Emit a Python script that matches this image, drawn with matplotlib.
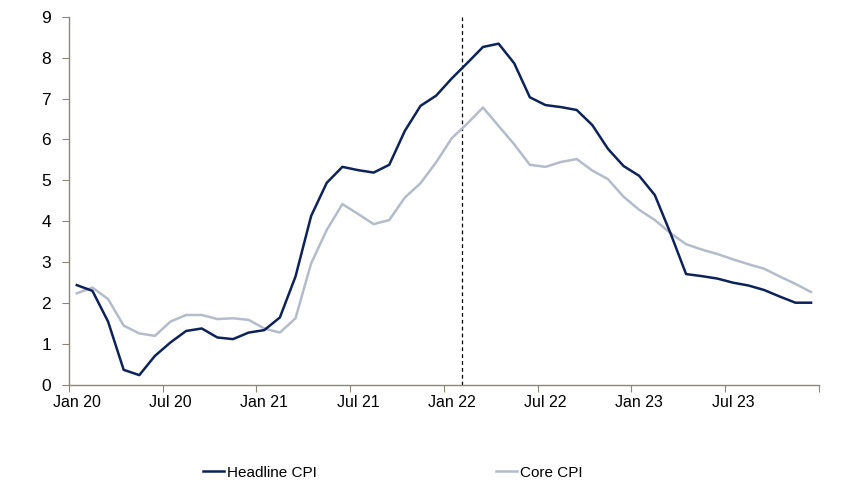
import numpy as np
import matplotlib
matplotlib.use('Agg')
import matplotlib.pyplot as plt
from matplotlib import font_manager

plt.rcParams['font.family'] = ['Liberation Sans', 'DejaVu Sans']

# monthly data, Jan 20 - Dec 23
months = ['Jan 20', 'Feb 20', 'Mar 20', 'Apr 20', 'May 20', 'Jun 20', 'Jul 20', 'Aug 20', 'Sep 20', 'Oct 20', 'Nov 20', 'Dec 20',
          'Jan 21', 'Feb 21', 'Mar 21', 'Apr 21', 'May 21', 'Jun 21', 'Jul 21', 'Aug 21', 'Sep 21', 'Oct 21', 'Nov 21', 'Dec 21',
          'Jan 22', 'Feb 22', 'Mar 22', 'Apr 22', 'May 22', 'Jun 22', 'Jul 22', 'Aug 22', 'Sep 22', 'Oct 22', 'Nov 22', 'Dec 22',
          'Jan 23', 'Feb 23', 'Mar 23', 'Apr 23', 'May 23', 'Jun 23', 'Jul 23', 'Aug 23', 'Sep 23', 'Oct 23', 'Nov 23', 'Dec 23']
headline = [2.44, 2.30, 1.55, 0.37, 0.24, 0.71, 1.04, 1.32, 1.38, 1.16, 1.12, 1.28,
            1.34, 1.65, 2.65, 4.13, 4.94, 5.33, 5.25, 5.19, 5.38, 6.21, 6.82, 7.07,
            7.49, 7.87, 8.26, 8.34, 7.86, 7.03, 6.84, 6.79, 6.72, 6.35, 5.77, 5.35,
            5.11, 4.64, 3.71, 2.71, 2.66, 2.60, 2.50, 2.43, 2.32, 2.16, 2.01, 2.01]
core = [2.24, 2.38, 2.10, 1.45, 1.26, 1.20, 1.55, 1.71, 1.71, 1.61, 1.63, 1.59,
        1.38, 1.28, 1.63, 2.97, 3.79, 4.42, 4.18, 3.93, 4.03, 4.58, 4.93, 5.44,
        6.03, 6.39, 6.78, 6.33, 5.88, 5.38, 5.33, 5.45, 5.52, 5.24, 5.03, 4.60,
        4.28, 4.03, 3.71, 3.44, 3.31, 3.20, 3.07, 2.95, 2.84, 2.65, 2.47, 2.27]
event_pos = 24.67  # late Feb 22

x = np.arange(len(months))

fig = plt.figure(figsize=(8.57, 4.98), dpi=100)
ax = fig.add_axes([0.0805, 0.227, 0.875, 0.7395])

l_core, = ax.plot(x, core, color='#b4bccb', lw=1.8, zorder=2)
l_head, = ax.plot(x, headline, color='#0c2259', lw=1.8, zorder=3)
ax.axvline(event_pos, color='black', lw=0.9, ls=(0, (3, 2.5)), zorder=1)

ax.set_xlim(-0.5, len(months) - 0.5)
ax.set_ylim(0, 9)

axis_col = '#8c8672'
for s in ['top', 'right']:
    ax.spines[s].set_visible(False)
for s in ['left', 'bottom']:
    ax.spines[s].set_color(axis_col)
    ax.spines[s].set_linewidth(1.0)

# tick marks at category boundaries, labels centred on categories
ax.set_xticks(np.arange(-0.5, len(months), 6))
ax.set_xticklabels([])
ax.set_xticks(x[::6], minor=True)
ax.set_xticklabels(months[::6], minor=True)
ax.tick_params(axis='x', which='major', length=5, color=axis_col, direction='out')
ax.tick_params(axis='x', which='minor', length=0, pad=7, labelsize=11.5)
ax.set_yticks(range(0, 10))
ax.tick_params(axis='y', length=5, color=axis_col, direction='out', labelsize=12.5, pad=8)

# legend: two separate entries placed where the reference has them
names = [f.name for f in font_manager.fontManager.ttflist]
leg_family = ['Liberation Sans Narrow', 'DejaVu Sans'] if 'Liberation Sans Narrow' in names else ['Liberation Sans', 'DejaVu Sans']
leg_size = 12.5 if 'Liberation Sans Narrow' in names else 11
for line, name, xpos in [(l_head, 'Headline CPI', 203 / 857), (l_core, 'Core CPI', 496 / 857)]:
    lg = fig.legend([line], [name], loc='center left', bbox_to_anchor=(xpos, 0.051),
                    frameon=False, handlelength=1.35, handletextpad=0.2,
                    borderpad=0, borderaxespad=0,
                    prop={'family': leg_family, 'size': leg_size})

fig.savefig('out.png', dpi=100)
